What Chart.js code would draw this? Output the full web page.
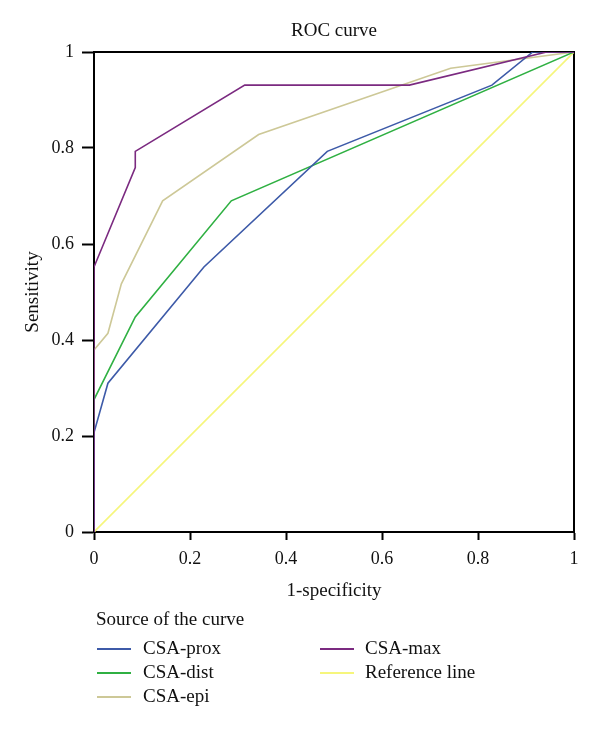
<!DOCTYPE html>
<html>
<head>
<meta charset="utf-8">
<script src="https://cdn.jsdelivr.net/npm/chart.js@4/dist/chart.umd.min.js"></script>
<style>
  html, body { margin: 0; padding: 0; background: #fff; }
  #wrap { position: relative; width: 600px; height: 729px; }
  #c { position: absolute; left: 0; top: 0; }
  .lg { position: absolute; font-family: "Liberation Serif", serif; font-size: 19px; line-height: 24px; color: #111; white-space: nowrap; }
  .sw { position: absolute; height: 2px; width: 34px; }
</style>
</head>
<body>
<div id="wrap">
  <canvas id="c" width="600" height="729"></canvas>
  <div id="legend"></div>
</div>
<script>
// ---- data ----
const seriesNames = ["CSA-prox", "CSA-dist", "CSA-epi", "CSA-max", "Reference line"];
const seriesColors = ["#3d5aa8", "#2fb042", "#cdc897", "#7b2a80", "#f6f67c"];

const proxX = [0, 0, 0.029, 0.229, 0.486, 0.829, 0.914, 1];
const proxY = [0, 0.207, 0.310, 0.552, 0.793, 0.931, 1, 1];

const distX = [0, 0, 0.086, 0.286, 1];
const distY = [0, 0.276, 0.448, 0.690, 1];

const epiX = [0, 0, 0.029, 0.057, 0.143, 0.343, 0.743, 1];
const epiY = [0, 0.379, 0.414, 0.517, 0.690, 0.828, 0.966, 1];

const maxX = [0, 0, 0.086, 0.086, 0.314, 0.657, 0.943, 1];
const maxY = [0, 0.552, 0.759, 0.793, 0.931, 0.931, 1, 1];

const refX = [0, 1];
const refY = [0, 1];

const tickValues = [0, 0.2, 0.4, 0.6, 0.8, 1];
const tickLabels = ["0", "0.2", "0.4", "0.6", "0.8", "1"];
const chartTitle = "ROC curve";
const xTitle = "1-specificity";
const yTitle = "Sensitivity";
const legendTitle = "Source of the curve";

// ---- build ----
const xs = [proxX, distX, epiX, maxX, refX];
const ys = [proxY, distY, epiY, maxY, refY];
const drawOrder = [1, 2, 3, 0, 4]; // purple on top
const datasets = seriesNames.map((n, i) => ({
  label: n,
  data: xs[i].map((x, k) => ({ x: x, y: ys[i][k] })),
  borderColor: seriesColors[i],
  backgroundColor: seriesColors[i],
  borderWidth: 1.6,
  pointRadius: 0,
  tension: 0,
  fill: false,
  order: drawOrder[i]
}));

const serif = "'Liberation Serif', serif";
const ink = "#111";
const tickLabel = (v) => { const k = tickValues.findIndex(t => Math.abs(t - v) < 1e-9); return k >= 0 ? tickLabels[k] : ""; };

new Chart(document.getElementById("c"), {
  type: "line",
  data: { datasets: datasets },
  options: {
    responsive: false,
    animation: false,
    layout: { padding: { left: 0, right: 0, top: 0, bottom: 127 } },
    plugins: { legend: { display: false }, tooltip: { enabled: false }, title: { display: false } },
    scales: {
      x: {
        type: "linear", position: "bottom", min: 0, max: 1,
        afterBuildTicks: (s) => { s.ticks = tickValues.map(v => ({ value: v })); },
        ticks: { color: ink, font: { family: serif, size: 18 }, padding: 8, maxRotation: 0, callback: tickLabel },
        grid: { drawOnChartArea: false, drawTicks: true, tickLength: 8, tickWidth: 2, tickColor: "#000" },
        border: { display: true, color: "#000", width: 2 },
        title: { display: true, text: xTitle, color: ink, font: { family: serif, size: 19 }, padding: { top: 0, bottom: 0 } },
        afterFit: (s) => { s.height = 70; }
      },
      y: {
        type: "linear", position: "left", min: 0, max: 1,
        afterBuildTicks: (s) => { s.ticks = tickValues.map(v => ({ value: v })); },
        ticks: { color: ink, font: { family: serif, size: 18 }, padding: 8, callback: tickLabel },
        grid: { drawOnChartArea: false, drawTicks: true, tickLength: 12, tickWidth: 2, tickColor: "#000" },
        border: { display: true, color: "#000", width: 2 },
        title: { display: true, text: yTitle, color: ink, font: { family: serif, size: 19 }, padding: { top: 22, bottom: 0 } },
        afterFit: (s) => { s.width = 94; }
      },
      x2: {
        type: "linear", position: "top", min: 0, max: 1,
        ticks: { display: false },
        grid: { display: false, drawTicks: false },
        border: { display: true, color: "#000", width: 2 },
        title: { display: true, text: chartTitle, color: ink, font: { family: serif, size: 19 }, padding: { top: 20, bottom: 0 } },
        afterFit: (s) => { s.height = 52; }
      },
      y2: {
        type: "linear", position: "right", min: 0, max: 1,
        ticks: { display: false },
        grid: { display: false, drawTicks: false },
        border: { display: true, color: "#000", width: 2 },
        afterFit: (s) => { s.width = 26; }
      }
    }
  }
});

// ---- legend (HTML text) ----
const lg = document.getElementById("legend");
function addText(txt, left, top) {
  const d = document.createElement("div");
  d.className = "lg"; d.style.left = left + "px"; d.style.top = top + "px";
  d.textContent = txt; lg.appendChild(d);
}
function addSwatch(color, left, top) {
  const d = document.createElement("div");
  d.className = "sw"; d.style.left = left + "px"; d.style.top = top + "px";
  d.style.background = color; lg.appendChild(d);
}
addText(legendTitle, 96, 607);
const cells = [[0, 0], [0, 1], [0, 2], [1, 0], [1, 1]]; // [col,row]
seriesNames.forEach((n, i) => {
  const col = cells[i][0], row = cells[i][1];
  const lx = col === 0 ? 97 : 320;
  const tx = col === 0 ? 143 : 365;
  const cy = 649 + row * 24;
  addSwatch(seriesColors[i], lx, cy - 1);
  addText(n, tx, cy - 13.5);
});
</script>
</body>
</html>
